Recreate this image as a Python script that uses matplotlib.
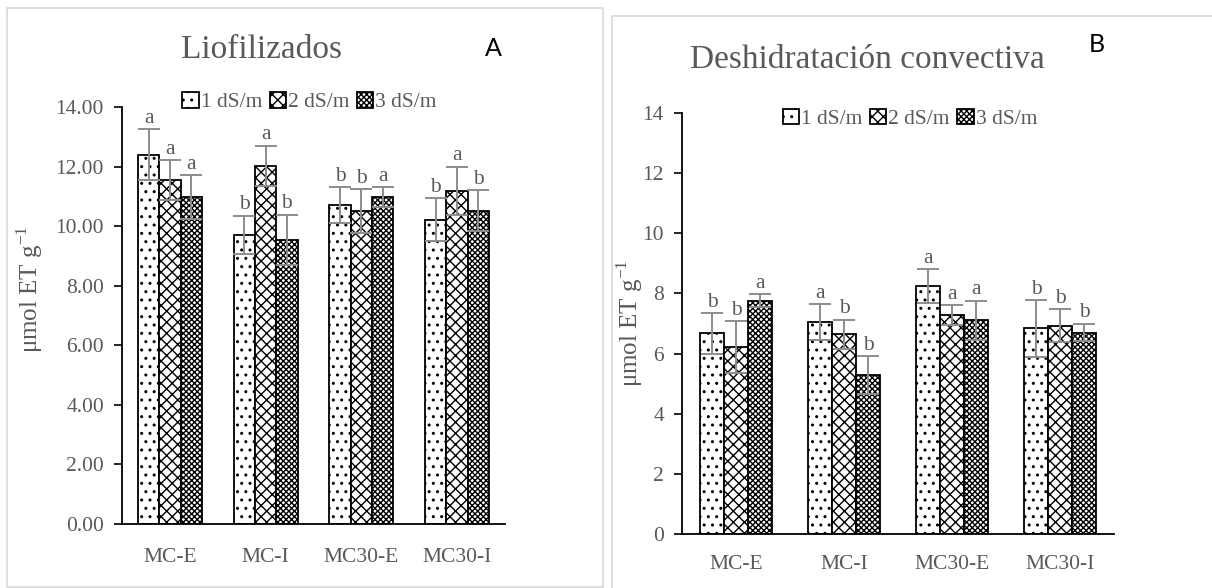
import numpy as np
import matplotlib
matplotlib.use("Agg")
import matplotlib.pyplot as plt
from matplotlib.patches import Rectangle
from matplotlib.ticker import FormatStrFormatter

plt.rcParams['font.family'] = ['Liberation Serif', 'DejaVu Serif']
plt.rcParams['mathtext.fontset'] = 'custom'
plt.rcParams['mathtext.rm'] = 'Liberation Serif'
plt.rcParams['hatch.linewidth'] = 1.0

# data
categories = ['MC-E', 'MC-I', 'MC30-E', 'MC30-I']
series = ['1 dS/m', '2 dS/m', '3 dS/m']

lio_vals = [[12.40, 9.70, 10.70, 10.22],
            [11.55, 12.03, 10.50, 11.19],
            [10.97, 9.54, 10.98, 10.52]]
lio_err = [[0.85, 0.65, 0.61, 0.72],
           [0.67, 0.67, 0.74, 0.81],
           [0.74, 0.84, 0.33, 0.69]]
lio_letters = [['a', 'b', 'b', 'b'],
               ['a', 'a', 'b', 'a'],
               ['a', 'b', 'a', 'b']]

conv_vals = [[6.67, 7.04, 8.24, 6.84],
             [6.21, 6.64, 7.28, 6.92],
             [7.76, 5.29, 7.11, 6.70]]
conv_err = [[0.67, 0.60, 0.57, 0.94],
            [0.87, 0.49, 0.32, 0.55],
            [0.22, 0.62, 0.65, 0.29]]
conv_letters = [['b', 'a', 'a', 'b'],
                ['b', 'b', 'a', 'b'],
                ['a', 'b', 'a', 'b']]

hatches = ['..', 'xxx', 'xxxxxx']
gray = '#595959'

W, H = 1212, 588
fig = plt.figure(figsize=(W / 100, H / 100), dpi=100)

# panel frames
fig.add_artist(Rectangle((7 / W, 1 - 587 / H), 596 / W, 579 / H, transform=fig.transFigure,
                         fill=False, edgecolor='#d9d9d9', linewidth=1.2))
fig.add_artist(Rectangle((612 / W, 1 - 600 / H), 620 / W, 584 / H, transform=fig.transFigure,
                         fill=False, edgecolor='#d9d9d9', linewidth=1.2))


def draw_panel(rect, vals, errs, letters, title, title_xy, tag, tag_xy, fmt,
               legend_xy, ylabel_xy, xpad):
    ax = fig.add_axes(rect)
    x = np.arange(len(categories))
    w = 0.222
    for i in range(len(series)):
        pos = x + (i - 1) * w
        ax.bar(pos, vals[i], w, color='white', edgecolor='black', linewidth=1.3,
               hatch=hatches[i], label=series[i], zorder=2)
        ax.errorbar(pos, vals[i], yerr=errs[i], fmt='none', ecolor='#8c8c8c',
                    elinewidth=1.4, capsize=8, capthick=1.4, zorder=3)
        for xp, v, e, t in zip(pos, vals[i], errs[i], letters[i]):
            ax.annotate(t, (xp, v + e), xytext=(0, 1), textcoords='offset points',
                        ha='center', va='bottom', fontsize=15.5, color=gray)
    ax.set_xlim(-0.5, 3.5)
    ax.set_ylim(0, 14)
    ax.set_yticks(np.arange(0, 15, 2))
    ax.yaxis.set_major_formatter(FormatStrFormatter(fmt))
    ax.set_xticks(x)
    ax.set_xticklabels(categories)
    ax.tick_params(axis='x', length=0, pad=xpad, labelsize=15.5, labelcolor=gray)
    ax.tick_params(axis='y', length=6, width=1.2, direction='out', pad=7,
                   labelsize=15.5, labelcolor=gray)
    for s in ['top', 'right']:
        ax.spines[s].set_visible(False)
    ax.spines['left'].set_linewidth(1.3)
    ax.spines['bottom'].set_linewidth(1.3)
    ax.set_ylabel(r'μmol ET g$^{-1}$', fontsize=18, color=gray)
    ax.yaxis.set_label_coords(*ylabel_xy)
    fig.text(title_xy[0] / W, 1 - title_xy[1] / H, title, ha='center', va='center',
             fontsize=24, color=gray)
    fig.text(tag_xy[0] / W, 1 - tag_xy[1] / H, tag, ha='center', va='center',
             fontsize=18, family='Lato', color='black')
    ax.legend(loc='center', bbox_to_anchor=legend_xy, ncol=3, frameon=False,
              fontsize=15.5, labelcolor=gray, handlelength=0.75, handleheight=0.75,
              handletextpad=0.1, columnspacing=0.35, borderaxespad=0)
    return ax


draw_panel([122 / W, 1 - 524 / H, 383 / W, 417 / H], lio_vals, lio_err, lio_letters,
           'Liofilizados', (261, 50), 'A', (493, 48), '%.2f', (0.49, 1.012), (-0.2, 0.564), 17)
draw_panel([682 / W, 1 - 534 / H, 432 / W, 421 / H], conv_vals, conv_err, conv_letters,
           'Deshidratación convectiva', (867, 60), 'B', (1097, 45), '%d', (0.528, 0.986), (-0.086, 0.50), 15)

fig.savefig('out.png', dpi=100)
